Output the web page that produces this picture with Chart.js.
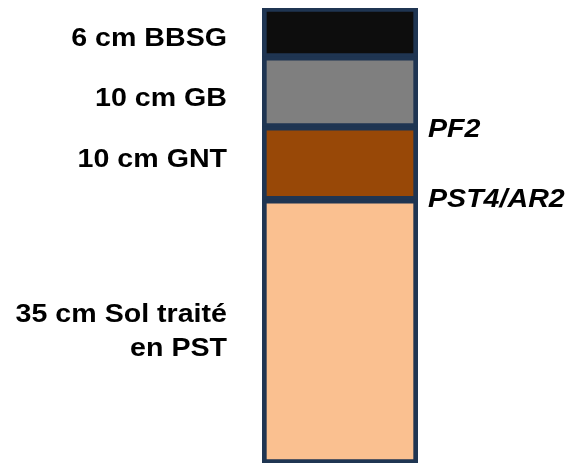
<!DOCTYPE html>
<html>
<head>
<meta charset="utf-8">
<script src="https://cdn.jsdelivr.net/npm/chart.js@4"></script>
<style>
  html, body { margin: 0; padding: 0; background: #fff; }
  canvas { display: block; }
</style>
</head>
<body>
<canvas id="layers" width="572" height="464"></canvas>
<script>
// layers from bottom to top, thickness as drawn (cm)
const layerNames = ["35 cm Sol traité\nen PST", "10 cm GNT", "10 cm GB", "6 cm BBSG"];
const thickness = [35, 9.7, 9.3, 6.5];
const layerColors = ["#fac090", "#984807", "#7f7f7f", "#0d0d0d"];
// interface labels: placed on top of layer index
const interfaceNames = ["PST4/AR2", "PF2"];
const interfaceAbove = [0, 1];

const total = thickness.reduce((a, b) => a + b, 0);
const labelOffsets = [-9.5, 4, 14.5, 13.5]; // baseline vs layer centre
const interfaceOffsets = [7, 10];
const STRETCH = 1.1; // text in the source is a bit wider than Arial

function wideText(ctx, txt, x, y) {
  ctx.save();
  ctx.translate(x, y);
  ctx.scale(STRETCH, 1);
  ctx.fillText(txt, 0, 0);
  ctx.restore();
}

const textPlugin = {
  id: "layerText",
  afterDraw(chart) {
    const ctx = chart.ctx;
    const y = chart.scales.y;
    const area = chart.chartArea;
    ctx.save();
    ctx.fillStyle = "#000";
    ctx.textBaseline = "alphabetic";

    // left labels, right aligned
    ctx.font = "bold 26px 'Liberation Sans', Arial, sans-serif";
    ctx.textAlign = "right";
    let base = 0;
    thickness.forEach((t, i) => {
      const yb = y.getPixelForValue(base + t / 2) + labelOffsets[i];
      layerNames[i].split("\n").forEach((ln, j) => {
        wideText(ctx, ln, 227, yb + j * 34);
      });
      base += t;
    });

    // right labels at interfaces
    ctx.font = "italic bold 26px 'Liberation Sans', Arial, sans-serif";
    ctx.textAlign = "left";
    interfaceNames.forEach((name, i) => {
      let s = 0;
      for (let k = 0; k <= interfaceAbove[i]; k++) s += thickness[k];
      wideText(ctx, name, area.right + 10, y.getPixelForValue(s) + interfaceOffsets[i]);
    });
    ctx.restore();
  }
};

new Chart(document.getElementById("layers").getContext("2d"), {
  type: "bar",
  data: {
    labels: ["structure"],
    datasets: thickness.map((t, i) => ({
      label: layerNames[i],
      data: [t],
      backgroundColor: layerColors[i],
      borderColor: "#1f3552",
      borderWidth: { top: 4, bottom: 4, left: 5, right: 5 },
      borderSkipped: false,
      barPercentage: 1,
      categoryPercentage: 1,
    })),
  },
  options: {
    responsive: false,
    animation: false,
    layout: { padding: { left: 262, right: 154, top: 8, bottom: 1 } },
    scales: {
      x: { stacked: true, display: false },
      y: { stacked: true, display: false, min: 0, max: total },
    },
    plugins: { legend: { display: false }, tooltip: { enabled: false } },
  },
  plugins: [textPlugin],
});
</script>
</body>
</html>
